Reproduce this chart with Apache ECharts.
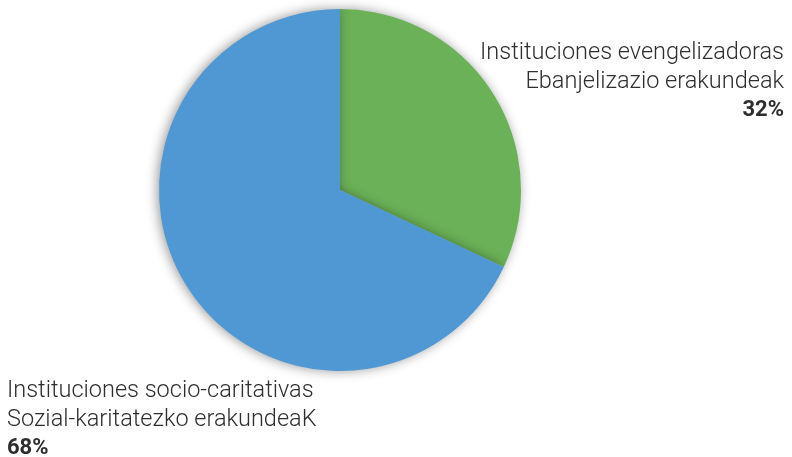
<!DOCTYPE html>
<html>
<head>
<meta charset="utf-8">
<script src="https://cdn.jsdelivr.net/npm/echarts@6/dist/echarts.min.js"></script>
<style>html,body{margin:0;padding:0;background:#fff;}#c{width:792px;height:457px;}</style>
</head>
<body>
<div id="c"></div>
<script>
const categoriesES = ['Instituciones evengelizadoras', 'Instituciones socio-caritativas'];
const categoriesEU = ['Ebanjelizazio erakundeak', 'Sozial-karitatezko erakundeaK'];
const values = [32, 68];
const colors = ['#6BB158', '#4F98D4'];

const chart = echarts.init(document.getElementById('c'), null, {renderer: 'canvas'});
const labelPos = [
  {x: 784, y: 39, align: 'right'},
  {x: 7, y: 377, align: 'left'}
];
chart.setOption({
  animation: false,
  series: [{
    type: 'pie',
    center: [340, 190],
    radius: 181,
    startAngle: 90,
    clockwise: true,
    data: values.map((v, i) => ({
      value: v,
      name: categoriesES[i],
      itemStyle: {color: colors[i]},
      label: {align: labelPos[i].align}
    })),
    itemStyle: {
      shadowBlur: 12,
      shadowColor: 'rgba(0,0,0,0.4)',
      shadowOffsetX: -2,
      shadowOffsetY: 0
    },
    label: {
      show: true,
      overflow: 'none',
      width: 400,
      formatter: (p) => '{a|' + categoriesES[p.dataIndex] + '}\n{a|' + categoriesEU[p.dataIndex] + '}\n{b|' + p.value + '%}',
      rich: {
        a: {fontFamily: 'Roboto', fontWeight: 300, fontSize: 23.5, lineHeight: 28.5, color: '#2e2e2e'},
        b: {fontFamily: 'Roboto', fontWeight: 'bold', fontSize: 22, lineHeight: 28.5, color: '#2e2e2e'}
      }
    },
    labelLine: {show: false},
    labelLayout: (params) => {
      const p = labelPos[params.dataIndex];
      return {x: p.x, y: p.y, align: p.align, verticalAlign: 'top', hideOverlap: false};
    }
  }]
});
</script>
</body>
</html>
